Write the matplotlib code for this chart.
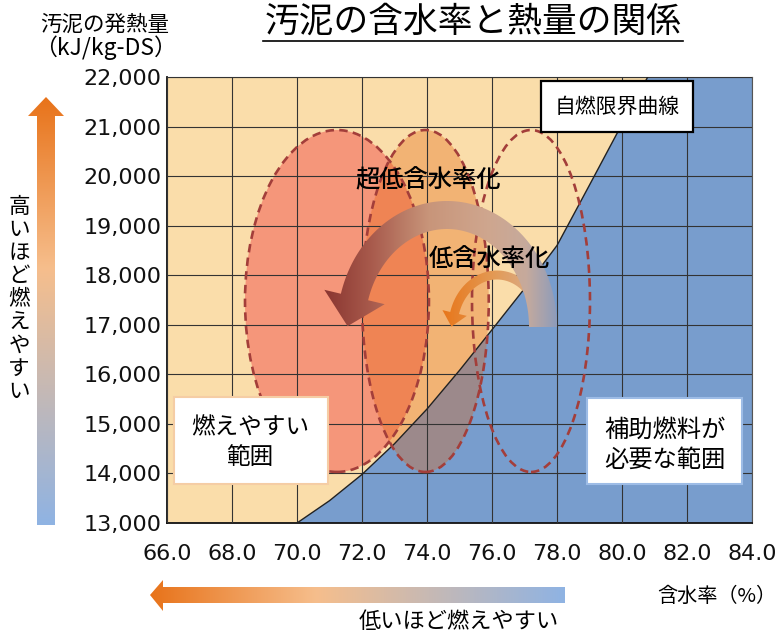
import numpy as np
import matplotlib
matplotlib.use("Agg")
import matplotlib.pyplot as plt
from matplotlib.patches import Ellipse, Polygon, Rectangle
from matplotlib.colors import LinearSegmentedColormap

plt.rcParams['font.family'] = ['Noto Sans CJK JP', 'DejaVu Sans']

# --- data ---
x_ticks = [66.0, 68.0, 70.0, 72.0, 74.0, 76.0, 78.0, 80.0, 82.0, 84.0]
y_ticks = [13000, 14000, 15000, 16000, 17000, 18000, 19000, 20000, 21000, 22000]

# self-combustion limit curve (water content %, kJ/kg-DS)
limit_x = [70.0, 71.0, 72.0, 73.0, 74.0, 75.0, 76.0, 77.0, 78.0, 79.0, 80.0, 81.0]
limit_y = [13000, 13450, 13980, 14600, 15300, 16080, 16900, 17730, 18600, 19820, 21050, 22250]

# zones: ultra-low water content, low water content, current
zone_cx = [71.23, 73.95, 77.2]
zone_cy = [17480, 17480, 17480]
zone_w = [5.66, 3.9, 3.63]
zone_h = [6900, 6900, 6900]

peach = '#FADDAA'
blue = '#789DCD'
dash_col = '#A33E3A'

fig = plt.figure(figsize=(7.77, 6.35), dpi=100)
W, H = 777, 635
L, R, T, B = 167, 752, 77, 523
ax = fig.add_axes([L / W, (H - B) / H, (R - L) / W, (B - T) / H])
ax.set_facecolor(peach)
ax.set_xlim(66, 84)
ax.set_ylim(13000, 22000)

# red zone (under the blue region)
ax.add_patch(Ellipse((zone_cx[0], zone_cy[0]), zone_w[0], zone_h[0],
                     fc='#F5967A', ec='none', zorder=1))

# region needing auxiliary fuel
bx = limit_x + [84, 84]
by = limit_y + [22250, 13000]
ax.fill(bx, by, color=blue, zorder=1.5, lw=0)

# low water content zone, translucent
ax.add_patch(Ellipse((zone_cx[1], zone_cy[1]), zone_w[1], zone_h[1],
                     fc='#E4640C', alpha=0.34, ec='none', zorder=2))

ax.set_xticks(x_ticks)
ax.set_yticks(y_ticks)
ax.set_xticklabels(['%.1f' % v for v in x_ticks])
ax.set_yticklabels(['{:,}'.format(v) for v in y_ticks])
ax.tick_params(length=0, labelsize=16, colors='#111111')
ax.tick_params(axis='x', pad=15)
ax.tick_params(axis='y', pad=4)
for lab in ax.get_xticklabels() + ax.get_yticklabels():
    lab.set_family('DejaVu Sans')
ax.set_axisbelow(False)
ax.grid(True, color='#333333', lw=0.8)
for s in ['top', 'right']:
    ax.spines[s].set_color('#555555')
    ax.spines[s].set_linewidth(0.8)
for s in ['left', 'bottom']:
    ax.spines[s].set_color('#111111')
    ax.spines[s].set_linewidth(1.3)

ax.plot(limit_x, limit_y, color='#222222', lw=1.0, zorder=3)

for cx, cy, w, h in zip(zone_cx, zone_cy, zone_w, zone_h):
    ax.add_patch(Ellipse((cx, cy), w, h, fc='none', ec=dash_col, lw=1.9,
                         ls=(0, (3.2, 2.0)), zorder=3.2))

# overlay in pixel coordinates for arrows and text
ov = fig.add_axes([0, 0, 1, 1], zorder=10)
ov.patch.set_alpha(0)
ov.axis('off')


def grad_fill(verts, stops, horizontal, z):
    poly = Polygon(verts, closed=True, fc='none', ec='none', zorder=z)
    ov.add_patch(poly)
    cmap = LinearSegmentedColormap.from_list('g', stops)
    xs = [v[0] for v in verts]
    ys = [v[1] for v in verts]
    g = np.linspace(0, 1, 256)
    img = g[None, :] if horizontal else g[:, None]
    im = ov.imshow(img, cmap=cmap, extent=(min(xs), max(xs), max(ys), min(ys)),
                   origin='upper', aspect='auto', zorder=z, interpolation='bilinear')
    im.set_clip_path(poly)


def curved_arrow(cx, cy, ra, rb, w, hw, hl, stops, z):
    t_end = np.pi - np.arcsin(hl / rb)
    t = np.linspace(0, t_end, 200)
    px = cx + ra * np.cos(t)
    py = cy - rb * np.sin(t)
    nx = np.cos(t) / ra
    ny = -np.sin(t) / rb
    nn = np.hypot(nx, ny)
    nx, ny = nx / nn, ny / nn
    outer = list(zip(px + nx * w / 2, py + ny * w / 2))
    inner = list(zip(px - nx * w / 2, py - ny * w / 2))
    dx, dy = -ra * np.sin(t_end), -rb * np.cos(t_end)
    dd = np.hypot(dx, dy)
    dx, dy = dx / dd, dy / dd
    ex, ey = px[-1], py[-1]
    head = [(ex + nx[-1] * hw / 2, ey + ny[-1] * hw / 2),
            (ex + dx * hl, ey + dy * hl),
            (ex - nx[-1] * hw / 2, ey - ny[-1] * hw / 2)]
    grad_fill(outer + head + inner[::-1], stops, True, z)


curved_arrow(497, 327, 44, 52, 9, 25, 14,
             ['#E8761A', '#E39A55', '#D6B39C'], 1)
curved_arrow(447, 327, 96, 112, 28, 62, 30,
             [(0, '#8A3530'), (0.2, '#A85A4C'), (0.45, '#C8957A'),
              (0.7, '#CFA68E'), (0.87, '#C6AA9C'), (1, '#8E9CBB')], 2)

side_stops = [(0, '#E8731A'), (0.4, '#F6BE8C'), (1, '#8FB3E3')]
grad_fill([(37, 525), (37, 116), (28, 116), (46, 97), (64, 116), (55, 116), (55, 525)],
          side_stops, False, 1)
grad_fill([(565, 587), (163, 587), (163, 580), (150, 595), (163, 611), (163, 603), (565, 603)],
          side_stops, True, 1)

ov.set_xlim(0, W)
ov.set_ylim(H, 0)

# titles and labels
ov.text(473, 22, '汚泥の含水率と熱量の関係', fontsize=25, ha='center', va='center', zorder=5)
ov.plot([263, 683], [41, 41], color='black', lw=1.2, zorder=5)
ov.text(40, 25, '汚泥の発熱量', fontsize=15.5, ha='left', va='center', zorder=5)
ov.text(34, 48, '（kJ/kg-DS）', fontsize=16.5, ha='left', va='center', zorder=5)

for i, ch in enumerate('高いほど燃えやすい'):
    ov.text(19, 207 + i * 23.1, ch, fontsize=15.5, ha='center', va='center', zorder=5)

ov.text(657, 596, '含水率（%）', fontsize=14.5, ha='left', va='center', zorder=5)
ov.text(459, 621, '低いほど燃えやすい', fontsize=16, ha='center', va='center', zorder=5)

ov.text(428, 180, '超低含水率化', fontsize=17.5, ha='center', va='center',
        weight='medium', zorder=5)
ov.text(489, 259, '低含水率化', fontsize=17.5, ha='center', va='center',
        weight='medium', zorder=5)

# boxes
ov.add_patch(Rectangle((541, 81), 152, 51, fc='white', ec='black', lw=1.6, zorder=4))
ov.text(617, 107, '自燃限界曲線', fontsize=15, ha='center', va='center', zorder=5)

ov.add_patch(Rectangle((174, 397), 154, 87, fc='white', ec='#F5CDA5', lw=1.5, zorder=4))
ov.text(250, 428, '燃えやすい', fontsize=17, ha='center', va='center', zorder=5)
ov.text(250, 458, '範囲', fontsize=17, ha='center', va='center', zorder=5)

ov.add_patch(Rectangle((587, 398), 155, 86, fc='white', ec='#9DBCE6', lw=1.5, zorder=4))
ov.text(665, 430, '補助燃料が', fontsize=17.5, ha='center', va='center', zorder=5)
ov.text(665, 460, '必要な範囲', fontsize=17.5, ha='center', va='center', zorder=5)

fig.savefig('out.png', dpi=100)
